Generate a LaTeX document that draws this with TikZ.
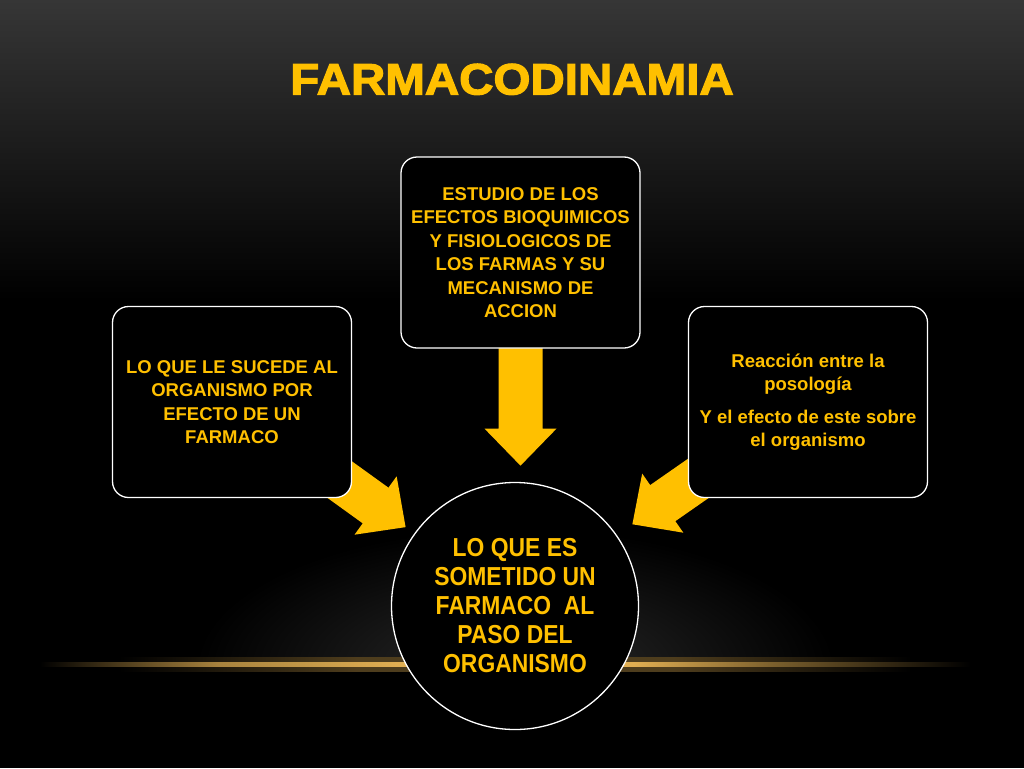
\documentclass[tikz,border=0pt]{standalone}
\usepackage{fontspec}
\setmainfont{Liberation Sans}
\newfontfamily\titlefont[FakeBold=2.5]{Liberation Sans Bold}
\usetikzlibrary{calc}
\definecolor{gold}{HTML}{FFC000}
\definecolor{glowgold}{HTML}{E0AE52}
\definecolor{bgtop}{HTML}{363636}
\definecolor{haze}{HTML}{2A2A2A}
% path box maps onto 25bp..75bp of the shading
\pgfdeclarehorizontalshading{glowline}{100bp}{color(0bp)=(black); color(26bp)=(black);
  color(35bp)=(glowgold!75!black); color(44bp)=(glowgold); color(56bp)=(glowgold);
  color(63bp)=(glowgold!55!black); color(73bp)=(black); color(100bp)=(black)}
\pgfdeclarehorizontalshading{glowhalo}{100bp}{color(0bp)=(black); color(30bp)=(black);
  color(42bp)=(glowgold!35!black); color(58bp)=(glowgold!35!black); color(70bp)=(black); color(100bp)=(black)}
\pgfdeclarelayer{back}
\pgfdeclarelayer{arrows}
\pgfsetlayers{back,arrows,main}
\begin{document}
\begin{tikzpicture}[x=1pt,y=-1pt,
  panel/.style={draw=white, line width=1.3pt, fill=black, rounded corners=16pt,
    minimum width=239pt, minimum height=191pt, inner sep=0pt, text=gold, align=center,
    font=\bfseries\fontsize{18.5}{23.5}\selectfont},
  hub/.style={circle, draw=white, line width=1.3pt, fill=black, minimum size=247pt, inner sep=0pt},
  hubtext/.style={text=gold, align=center, xscale=0.88, inner sep=0pt,
    font=\bfseries\fontsize{26}{29}\selectfont},
  blockarrow/.style={fill=gold}]
\useasboundingbox (0,0) rectangle (1024,768);

% nodes
\node[text=gold, anchor=base, inner sep=0pt] (title) at (512,94.5)
  {\titlefont\fontsize{44}{44}\selectfont\scalebox{1.08}[1]{FARMACODINAMIA}};
\node[panel] (top) at (520.5,252.5) {ESTUDIO DE LOS\\EFECTOS BIOQUIMICOS\\Y FISIOLOGICOS DE\\LOS FARMAS Y SU\\MECANISMO DE\\ACCION};
\node[panel] (left) at (232,402) {LO QUE LE SUCEDE AL\\ORGANISMO POR\\EFECTO DE UN\\FARMACO};
\node[panel] (right) at (808,402) {Reacción entre la\\posología\\[9pt]Y el efecto de este sobre\\el organismo};
\node[hub] (hub) at (515,606) {};
\node[hubtext] (hubt) at (hub.center) {LO QUE ES\\SOMETIDO UN\\FARMACO\ \ AL\\PASO DEL\\ORGANISMO};

% background
\begin{pgfonlayer}{back}
  \fill[black] (0,0) rectangle (1024,768);
  \shade[top color=bgtop, bottom color=black] (0,0) rectangle (1024,300);
  \begin{scope}
    \clip (0,480) rectangle (1024,663);
    \shade[inner color=haze, outer color=black] (515,668) ellipse [x radius=320, y radius=140];
  \end{scope}
  \shade[shading=glowhalo] (20,657) rectangle (1010,671);
  \shade[shading=glowline] (20,662) rectangle (1010,666.5);
\end{pgfonlayer}

% block arrows
\begin{pgfonlayer}{arrows}
  \coordinate (ttip) at ($(top.south)+(0,117)$);
  \coordinate (ltip) at ($(left.center)!214pt!(hub.center)$);
  \coordinate (rtip) at ($(right.center)!214pt!(hub.center)$);
  \begin{scope}[shift={(ttip)}, rotate=-90]
    \fill[blockarrow] (0,0) -- (-37,-36) -- (-37,-22) -- (-135,-22) -- (-135,22) -- (-37,22) -- (-37,36) -- cycle;
  \end{scope}
  \begin{scope}[shift={(ltip)}, rotate=-35.8]
    \fill[blockarrow] (0,0) -- (-37,-36) -- (-37,-22) -- (-160,-22) -- (-160,22) -- (-37,22) -- (-37,36) -- cycle;
  \end{scope}
  \begin{scope}[shift={(rtip)}, rotate=-145.15]
    \fill[blockarrow] (0,0) -- (-37,-36) -- (-37,-22) -- (-160,-22) -- (-160,22) -- (-37,22) -- (-37,36) -- cycle;
  \end{scope}
\end{pgfonlayer}
\end{tikzpicture}
\end{document}
